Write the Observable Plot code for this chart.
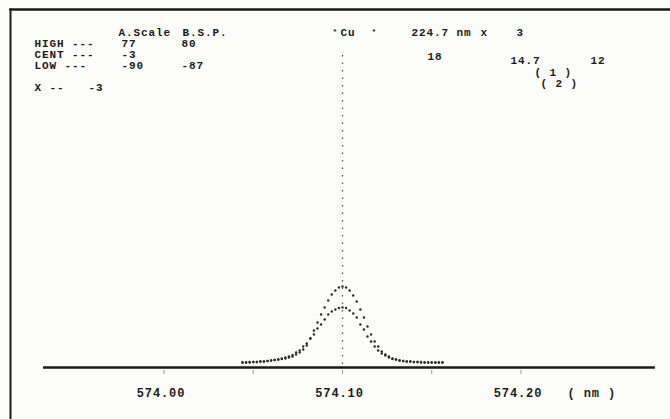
<!DOCTYPE html>
<html>
<head>
<meta charset="utf-8">
<script src="https://cdn.jsdelivr.net/npm/d3@7"></script>
<script src="https://cdn.jsdelivr.net/npm/@observablehq/plot@0.6"></script>
<style>
  html, body { margin: 0; padding: 0; background: #fcfcfa; }
  svg text { white-space: pre; }
</style>
</head>
<body>
<script>
// ---- data ----
const wavelength = [
  574.044, 574.046, 574.048, 574.050, 574.052, 574.054, 574.056, 574.058, 574.060, 574.062,
  574.064, 574.066, 574.068, 574.070, 574.072, 574.074, 574.076, 574.078, 574.080, 574.082,
  574.084, 574.086, 574.088, 574.090, 574.092, 574.094, 574.096, 574.098, 574.100, 574.102,
  574.104, 574.106, 574.108, 574.110, 574.112, 574.114, 574.116, 574.118, 574.120, 574.122,
  574.124, 574.126, 574.128, 574.130, 574.132, 574.134, 574.136, 574.138, 574.140, 574.142,
  574.144, 574.146, 574.148, 574.150, 574.152, 574.154, 574.156
];
// scan (1) – upper profile
const intensity1 = [
  0, 0, 0.5, 0.5, 0.5, 1, 1, 1.5, 2, 2.5,
  3, 3.5, 4, 5, 6, 8, 10, 13, 17, 24,
  32, 40, 48, 55, 62, 68, 72, 75, 76, 75,
  72, 67, 61, 53, 45, 36, 28, 21, 16, 11,
  8, 6, 4, 3, 2, 1.5, 1, 1, 0.5, 0.5,
  0.5, 0, 0, 0, 0, 0, 0
];
// scan (2) – lower profile
const intensity2 = [
  0, 0, 0, 0.5, 0.5, 1, 1, 1.5, 2, 2.5,
  3, 4, 5, 6, 7.5, 10, 12, 16, 19, 24,
  28, 34, 38, 43, 48, 51, 53, 54.5, 55, 54.5,
  52, 49, 45, 38, 33, 26, 21, 16, 12, 9,
  7, 5, 3.5, 3, 2, 1.5, 1, 1, 0.5, 0.5,
  0, 0, 0, 0, 0, 0, 0
];
const centerWavelength = 574.10;
const minorTicks = [574.00, 574.05, 574.10, 574.15, 574.20];
const tickValues = [574.00, 574.10, 574.20];
const unitLabel = "( nm )";

const headerCols = ["A.Scale", "B.S.P."];
const rowNames = ["HIGH ---", "CENT ---", "LOW ---"];
const aScale = ["77", "-3", "-90"];
const bsp = ["80", "", "-87"];
const xRow = ["X --", "-3"];
const element = ["*", "Cu", "*"];
const lineInfo = ["224.7 nm", "x", "3"];
const sideValues = ["18", "14.7", "12"];
const scanMarks = ["( 1 )", "( 2 )"];

const profile1 = wavelength.map((w, i) => ({w, v: intensity1[i]}));
const profile2 = wavelength.map((w, i) => ({w, v: intensity2[i]}));

// ---- layout constants ----
const ML = 10, MT = 9;
const ink = "#1c1c1c";
const font = {fontFamily: "Liberation Mono", fontWeight: "bold", fontSize: 11, fill: ink};
function label(text, x, y, extra = {}) {
  return Plot.text([text], {
    text: d => d, frameAnchor: "top-left", dx: x - ML, dy: y - MT,
    textAnchor: "start", lineAnchor: "middle", ...font, ...extra
  });
}

const axisLevel = -5;           // baseline of the printout
const axisExtent = [573.9325, 574.2753];

const chart = Plot.plot({
  width: 670, height: 419,
  marginLeft: ML, marginTop: MT, marginRight: 0, marginBottom: 0,
  x: {domain: [573.914006, 574.283754], axis: null},
  y: {domain: [-57, 353], axis: null},
  style: {background: "#fcfcfa", overflow: "visible", letterSpacing: "0.9px"},
  marks: [
    Plot.frame({anchor: "top", stroke: ink, strokeWidth: 2.5}),
    Plot.frame({anchor: "left", stroke: ink, strokeWidth: 2}),
    // baseline axis
    Plot.ruleY([axisLevel], {x1: axisExtent[0], x2: axisExtent[1], stroke: ink, strokeWidth: 2.5}),
    Plot.ruleX(minorTicks, {y1: -8, y2: -12, stroke: "#999", strokeWidth: 1}),
    // centre marker (dotted)
    Plot.ruleX([centerWavelength], {y1: -2, y2: 307, stroke: "#555", strokeWidth: 1.3, strokeDasharray: "1.5 6"}),
    // profiles
    Plot.dot(profile1, {x: "w", y: "v", r: 1.2, fill: "#2a2a2a", stroke: null}),
    Plot.dot(profile2, {x: "w", y: "v", r: 1.2, fill: "#2a2a2a", stroke: null}),
    // x tick labels
    Plot.text(tickValues, {x: d => d, y: -31, dx: -3, text: d => d.toFixed(2), textAnchor: "middle", lineAnchor: "middle", ...font, fontSize: 12}),
    label(unitLabel, 567, 393, {fontSize: 12}),
    // header block (left)
    label(headerCols[0], 118, 32),
    label(headerCols[1], 182, 32),
    ...rowNames.map((t, i) => label(t, 34, 43 + i * 11)),
    ...aScale.map((t, i) => label(t, 121, 43 + i * 11)),
    ...bsp.map((t, i) => label(t, 181, 43 + i * 11)),
    label(xRow[0], 34, 87),
    label(xRow[1], 88, 87),
    // header block (right)
    label(element[0], 332, 31, {fontSize: 8}),
    label(element[1], 340, 32),
    label(element[2], 371, 31, {fontSize: 8}),
    label(lineInfo[0], 411, 32),
    label(lineInfo[1], 480, 32),
    label(lineInfo[2], 516, 32),
    label(sideValues[0], 427, 56),
    label(sideValues[1], 510, 60),
    label(sideValues[2], 590, 60),
    label(scanMarks[0], 534, 72),
    label(scanMarks[1], 540, 83)
  ]
});
document.body.appendChild(chart);
</script>
</body>
</html>
